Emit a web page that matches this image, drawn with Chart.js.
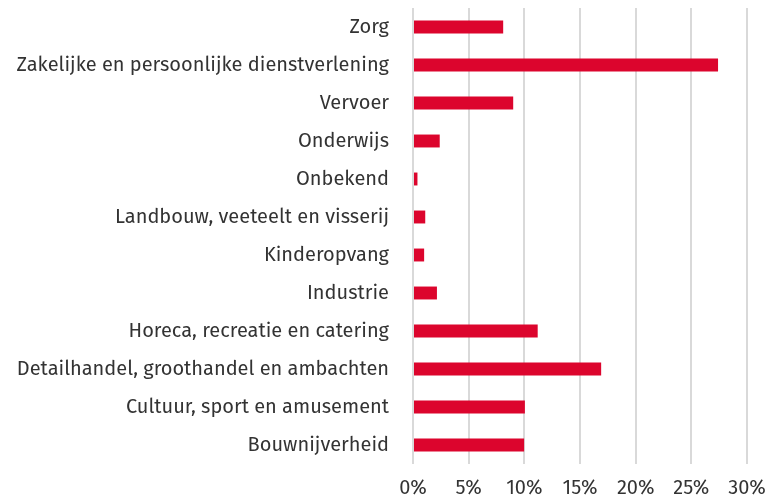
<!DOCTYPE html>
<html>
<head>
<meta charset="utf-8">
<script src="https://cdn.jsdelivr.net/npm/chart.js@4/dist/chart.umd.min.js"></script>
<style>
  html, body { margin: 0; padding: 0; background: #fff; }
  #wrap { width: 771px; height: 498px; position: relative; }
</style>
</head>
<body>
<div id="wrap"><canvas id="chart"></canvas></div>
<script>
// Sectors (top to bottom) and share per sector in %
const sectors = [
  'Zorg',
  'Zakelijke en persoonlijke dienstverlening',
  'Vervoer',
  'Onderwijs',
  'Onbekend',
  'Landbouw, veeteelt en visserij',
  'Kinderopvang',
  'Industrie',
  'Horeca, recreatie en catering',
  'Detailhandel, groothandel en ambachten',
  'Cultuur, sport en amusement',
  'Bouwnijverheid'
];
const shares = [8.1, 27.4, 9.0, 2.4, 0.4, 1.1, 1.0, 2.15, 11.2, 16.9, 10.05, 9.98];
const xTicks = [0, 5, 10, 15, 20, 25, 30];

const FONT = "'Fira Sans', 'Noto Sans', sans-serif";
const BAR_RED = '#dc052d';

const ctx = document.getElementById('chart');
new Chart(ctx, {
  type: 'bar',
  data: {
    labels: sectors,
    datasets: [{
      data: shares,
      backgroundColor: BAR_RED,
      borderWidth: 0,
      barPercentage: 0.34,
      categoryPercentage: 1
    }]
  },
  options: {
    indexAxis: 'y',
    responsive: true,
    maintainAspectRatio: false,
    animation: false,
    layout: { padding: { top: 8, right: 24, bottom: 0, left: 0 } },
    plugins: {
      legend: { display: false },
      tooltip: { enabled: false }
    },
    scales: {
      x: {
        min: 0,
        max: 30,
        afterBuildTicks: (scale) => {
          scale.ticks = xTicks.map(v => ({ value: v }));
        },
        afterFit: (scale) => {
          scale.height = 34;
          scale.paddingLeft = 0;
          scale.paddingRight = 0;
        },
        grid: { color: '#d9d9d9', lineWidth: 2, drawTicks: false },
        border: { display: false },
        ticks: {
          padding: 12,
          color: '#333',
          font: { family: FONT, size: 20 },
          callback: (v) => v + '%'
        }
      },
      y: {
        afterFit: (scale) => {
          scale.width = 413;
          // keep the tick padding from pushing the plot area down
          scale.paddingTop = 0;
          scale.paddingBottom = 0;
        },
        grid: { display: false, drawTicks: false },
        border: { display: false },
        ticks: {
          padding: 24,
          color: '#333',
          font: { family: FONT, size: 20 }
        }
      }
    }
  }
});
</script>
</body>
</html>
